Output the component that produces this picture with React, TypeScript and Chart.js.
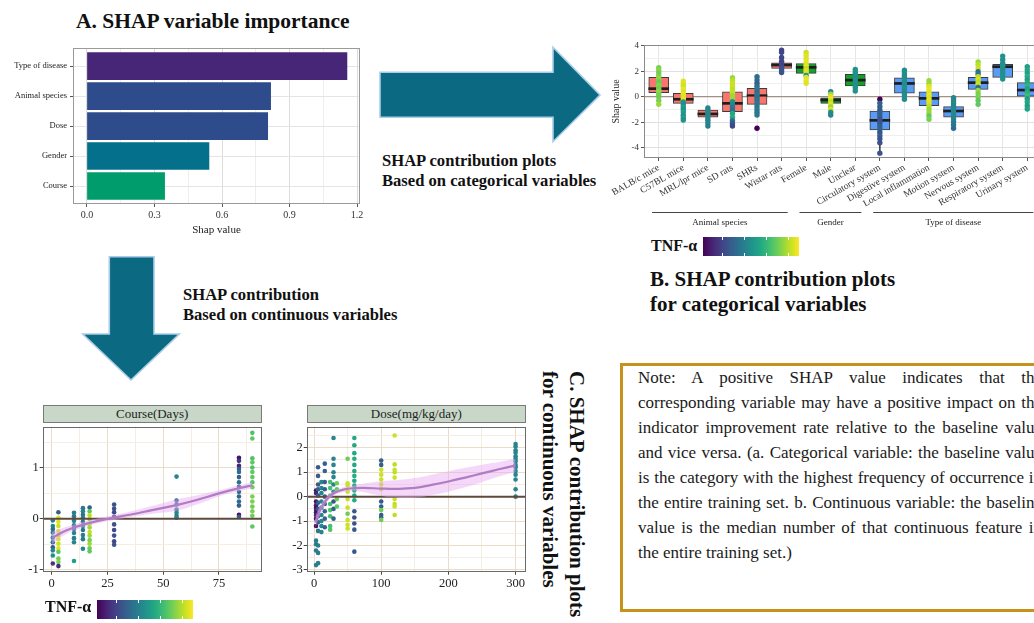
import React, { useEffect, useRef } from 'react';
import { Chart, registerables } from 'chart.js';

Chart.register(...registerables);

const SERIF = '"Liberation Serif", "Times New Roman", Times, serif';

// ---------------- Panel A: variable importance ----------------
const importanceVars = ['Type of disease', 'Animal species', 'Dose', 'Gender', 'Course'];
const importanceValues = [1.155, 0.816, 0.803, 0.542, 0.345];
const importanceColors = ['#482677', '#2e4b8b', '#2e4b8b', '#05708b', '#009c6b'];
const importanceMajor = [0, 0.3, 0.6, 0.9, 1.2];
const importanceMinor = [0.15, 0.45, 0.75, 1.05];

// ---------------- Panel B: categorical SHAP ----------------
const boxCategories = [
  'BALB/c mice', 'C57BL mice', 'MRL/lpr mice', 'SD rats', 'SHRs', 'Wistar rats',
  'Female', 'Male', 'Unclear',
  'Circulatory system', 'Digestive system', 'Local inflammation', 'Motion system',
  'Nervous system', 'Respiratory system', 'Urinary system',
];
const boxGroupNames = ['Animal species', 'Gender', 'Type of disease'];
const boxGroupFirst = [0, 6, 9];
const boxGroupLast = [5, 8, 15];
const boxGroupColors = ['#f8766d', '#13a02b', '#5a9cf5'];
const boxQ1 = [0.31, -0.52, -1.61, -1.17, -0.6, 2.22, 1.83, -0.52, 0.84, -2.6, 0.27, -0.7, -1.61, 0.58, 1.52, 0.0];
const boxMedian = [0.63, -0.2, -1.35, -0.52, 0.08, 2.48, 2.3, -0.26, 1.3, -1.85, 1.04, -0.13, -1.12, 1.1, 2.35, 0.52];
const boxQ3 = [1.52, 0.27, -1.04, 0.39, 0.66, 2.66, 2.6, -0.08, 1.75, -1.12, 1.48, 0.39, -0.78, 1.52, 2.53, 1.1];
const boxWhiskerLow = [-0.6, -1.82, -2.29, -2.29, -1.43, 1.9, 1.05, -1.43, 0.45, -4.42, -0.2, -1.77, -2.47, -0.6, 1.38, -0.96];
const boxWhiskerHigh = [2.27, 1.22, -0.88, 1.48, 1.56, 3.65, 3.47, 0.39, 2.14, -0.2, 2.08, 1.25, -0.08, 2.73, 3.18, 2.35];
const boxYMajor = [-4, -2, 0, 2, 4];
const boxYMinor = [-3, -1, 1, 3];

// points: [shap value, TNF-α level 0..1]
const ptsBALBc = [[2.27, 0.8], [2.05, 0.82], [1.85, 0.78], [1.62, 0.8], [1.42, 0.85], [1.25, 0.8], [1.1, 0.75], [0.95, 0.8], [0.8, 0.82], [0.65, 0.78], [0.5, 0.8], [0.35, 0.85], [0.2, 0.8], [0.0, 0.78], [-0.3, 0.8], [-0.6, 0.85]];
const ptsC57BL = [[1.22, 0.95], [1.02, 0.95], [0.82, 0.92], [0.6, 0.97], [0.42, 0.95], [0.22, 0.97], [0.05, 0.95], [-0.1, 0.95], [-0.25, 0.97], [-0.42, 0.5], [-0.62, 0.48], [-0.82, 0.55], [-1.0, 0.5], [-1.2, 0.55], [-1.45, 0.5], [-1.65, 0.55], [-1.82, 0.5]];
const ptsMRL = [[-0.88, 0.45], [-1.04, 0.45], [-1.2, 0.47], [-1.35, 0.45], [-1.5, 0.45], [-1.66, 0.47], [-1.85, 0.45], [-2.05, 0.45], [-2.29, 0.42]];
const ptsSD = [[1.48, 0.85], [1.25, 0.9], [1.02, 0.92], [0.8, 0.92], [0.56, 0.9], [0.32, 0.92], [0.1, 0.85], [-0.15, 0.85], [-0.4, 0.5], [-0.62, 0.45], [-0.85, 0.4], [-1.08, 0.35], [-1.32, 0.6], [-1.6, 0.62], [-1.88, 0.35], [-2.1, 0.28], [-2.29, 0.22]];
const ptsSHRs = [[1.56, 0.35], [1.3, 0.35], [1.05, 0.3], [0.82, 0.35], [0.58, 0.4], [0.35, 0.35], [0.12, 0.4], [-0.1, 0.35], [-0.3, 0.4], [-0.52, 0.4], [-0.76, 0.4], [-1.0, 0.42], [-1.22, 0.4], [-1.43, 0.4], [-2.47, 0.0]];
const ptsWistar = [[3.65, 0.2], [3.48, 0.2], [3.08, 0.22], [2.78, 0.2], [2.58, 0.22], [2.42, 0.2], [2.22, 0.25], [2.06, 0.25], [1.9, 0.25]];
const ptsFemale = [[3.47, 0.92], [3.22, 0.95], [2.98, 0.95], [2.72, 0.97], [2.52, 0.95], [2.36, 0.97], [2.2, 0.9], [2.05, 0.95], [1.9, 0.95], [1.66, 0.5], [1.5, 0.95], [1.27, 0.97], [1.05, 0.95]];
const ptsMale = [[0.39, 0.45], [0.2, 0.85], [0.02, 0.95], [-0.18, 0.97], [-0.38, 0.9], [-0.58, 0.95], [-0.8, 0.85], [-1.0, 0.95], [-1.22, 0.5], [-1.43, 0.45]];
const ptsUnclear = [[2.14, 0.5], [1.92, 0.5], [1.72, 0.5], [1.52, 0.48], [1.32, 0.5], [1.12, 0.5], [0.92, 0.48], [0.7, 0.5], [0.45, 0.5]];
const ptsCirculatory = [[-0.2, 0.0], [-0.5, 0.3], [-0.78, 0.3], [-1.05, 0.28], [-1.3, 0.3], [-1.55, 0.3], [-1.8, 0.25], [-2.05, 0.25], [-2.3, 0.3], [-2.55, 0.3], [-2.8, 0.25], [-3.05, 0.3], [-3.3, 0.25], [-3.6, 0.25], [-4.42, 0.25]];
const ptsDigestive = [[2.08, 0.48], [1.86, 0.5], [1.66, 0.48], [1.46, 0.48], [1.26, 0.5], [1.06, 0.48], [0.86, 0.48], [0.66, 0.5], [0.46, 0.48], [0.26, 0.46], [0.05, 0.48], [-0.2, 0.48]];
const ptsLocal = [[1.25, 0.85], [1.02, 0.85], [0.8, 0.95], [0.56, 0.97], [0.32, 0.95], [0.1, 0.97], [-0.1, 0.95], [-0.3, 0.97], [-0.5, 0.95], [-0.75, 0.9], [-1.0, 0.85], [-1.25, 0.85], [-1.5, 0.75], [-1.77, 0.8]];
const ptsMotion = [[-0.08, 0.45], [-0.3, 0.45], [-0.5, 0.47], [-0.7, 0.45], [-0.9, 0.45], [-1.1, 0.45], [-1.3, 0.47], [-1.5, 0.45], [-1.72, 0.45], [-1.95, 0.42], [-2.2, 0.4], [-2.47, 0.35]];
const ptsNervous = [[2.73, 0.85], [2.5, 0.9], [2.22, 0.92], [1.96, 0.35], [1.76, 0.4], [1.56, 0.9], [1.36, 0.95], [1.16, 0.9], [0.96, 0.92], [0.72, 0.35], [0.5, 0.85], [0.25, 0.8], [0.0, 0.8], [-0.3, 0.75], [-0.6, 0.75]];
const ptsRespiratory = [[3.18, 0.5], [2.9, 0.5], [2.62, 0.48], [2.46, 0.5], [2.3, 0.5], [2.1, 0.48], [1.86, 0.5], [1.62, 0.5], [1.38, 0.5]];
const ptsUrinary = [[2.35, 0.55], [2.1, 0.6], [1.85, 0.55], [1.6, 0.62], [1.35, 0.55], [1.1, 0.6], [0.85, 0.65], [0.6, 0.55], [0.35, 0.62], [0.1, 0.68], [-0.15, 0.55], [-0.42, 0.6], [-0.7, 0.55], [-0.96, 0.58]];
const boxPoints = [ptsBALBc, ptsC57BL, ptsMRL, ptsSD, ptsSHRs, ptsWistar, ptsFemale, ptsMale, ptsUnclear,
  ptsCirculatory, ptsDigestive, ptsLocal, ptsMotion, ptsNervous, ptsRespiratory, ptsUrinary];

// ---------------- Panel C: Course(Days) ----------------
const courseDays = [0.5, 3, 10, 14, 17, 28, 56, 84, 90];
const courseD0 = [[-0.03, 0.42], [-0.14, 0.45], [-0.2, 0.35], [-0.27, 0.42], [-0.37, 0.45], [-0.46, 0.35], [-0.56, 0.3], [-0.62, 0.45], [-0.72, 0.5], [-0.88, 0.15]];
const courseD3 = [[0.13, 0.3], [0.02, 0.95], [-0.06, 0.95], [-0.14, 0.92], [-0.24, 0.95], [-0.32, 0.9], [-0.4, 0.95], [-0.49, 0.92], [-0.58, 0.95], [-0.65, 0.75], [-0.78, 0.78], [-0.85, 0.8], [-0.93, 0.12]];
const courseD10 = [[0.12, 0.42], [0.05, 0.4], [-0.04, 0.45], [-0.13, 0.42], [-0.2, 0.4], [-0.28, 0.45], [-0.38, 0.42], [-0.46, 0.45], [-0.83, 0.55]];
const courseD14 = [[0.21, 0.4], [0.15, 0.42], [0.08, 0.38], [0.02, 0.42], [-0.06, 0.4], [-0.14, 0.42], [-0.22, 0.38], [-0.32, 0.42], [-0.4, 0.4], [-0.59, 0.45]];
const courseD17 = [[0.22, 0.3], [0.15, 0.75], [0.07, 0.9], [-0.01, 0.85], [-0.1, 0.9], [-0.17, 0.85], [-0.26, 0.9], [-0.33, 0.85], [-0.42, 0.8], [-0.49, 0.85], [-0.58, 0.78], [-0.64, 0.75]];
const courseD28 = [[0.28, 0.25], [0.2, 0.25], [0.13, 0.22], [0.04, 0.25], [-0.11, 0.25], [-0.22, 0.22], [-0.33, 0.25], [-0.44, 0.22], [-0.51, 0.25]];
const courseD56 = [[0.83, 0.45], [0.36, 0.35], [0.28, 0.35], [0.18, 0.4], [0.12, 0.45], [0.06, 0.42], [0.02, 0.45]];
const courseD84 = [[1.2, 0.05], [1.14, 0.15], [1.04, 0.1], [0.98, 0.3], [0.92, 0.35], [0.82, 0.3], [0.72, 0.35], [0.63, 0.3], [0.53, 0.35], [0.44, 0.32], [0.34, 0.35], [0.26, 0.3], [0.08, 0.05], [0.04, 0.3]];
const courseD90 = [[1.69, 0.72], [1.58, 0.75], [1.19, 0.72], [1.11, 0.75], [1.01, 0.72], [0.92, 0.75], [0.82, 0.75], [0.72, 0.72], [0.62, 0.78], [0.44, 0.8], [0.34, 0.8], [0.24, 0.78], [0.15, 0.8], [0.06, 0.78], [-0.15, 0.75]];
const coursePoints = [courseD0, courseD3, courseD10, courseD14, courseD17, courseD28, courseD56, courseD84, courseD90];
const courseSmoothX = [0, 5, 10, 17, 25, 35, 45, 56, 65, 75, 84, 90];
const courseSmoothY = [-0.38, -0.26, -0.17, -0.08, 0.0, 0.08, 0.17, 0.27, 0.37, 0.5, 0.6, 0.66];
const courseUpper = [-0.26, -0.18, -0.11, -0.03, 0.05, 0.14, 0.25, 0.38, 0.46, 0.56, 0.66, 0.72];
const courseLower = [-0.5, -0.34, -0.23, -0.13, -0.05, 0.03, 0.1, 0.16, 0.28, 0.44, 0.54, 0.6];
const courseXMajor = [0, 25, 50, 75];
const courseXMinor = [12.5, 37.5, 62.5, 87.5];
const courseYMajor = [-1, 0, 1];
const courseYMinor = [-0.5, 0.5, 1.5];

// ---------------- Panel C: Dose(mg/kg/day) ----------------
const doseLevels = [3, 6, 11, 16, 24, 29, 34, 50, 60, 100, 120, 300];
const doseD3 = [[0.25, 0.05], [0.15, 0.1], [-0.2, 0.05], [-0.35, 0.1], [-0.45, 0.05], [-0.55, 0.1], [-0.65, 0.05], [-0.75, 0.1], [-0.9, 0.05], [-1.2, 0.02], [-1.8, 0.42], [-1.95, 0.42], [-2.2, 0.42], [-2.8, 0.42]];
const doseD6 = [[1.2, 0.28], [0.85, 0.3], [0.5, 0.28], [0.3, 0.3], [0.05, 0.3], [-0.25, 0.3], [-0.5, 0.28], [-0.8, 0.3], [-1.05, 0.28], [-1.4, 0.4], [-2.0, 0.42], [-2.3, 0.42], [-2.72, 0.42]];
const doseD11 = [[0.6, 0.45], [0.35, 0.45], [0.15, 0.45], [-0.2, 0.45], [-0.45, 0.45], [-0.75, 0.45], [-1.0, 0.45], [-1.2, 0.45], [-1.45, 0.45]];
const doseD16 = [[1.35, 0.3], [1.05, 0.3], [0.6, 0.3], [0.3, 0.3], [0.0, 0.3], [-0.3, 0.3], [-0.6, 0.3], [-0.9, 0.3], [-1.25, 0.3]];
const doseD24 = [[0.6, 0.7], [0.35, 0.7], [0.05, 0.72], [-0.3, 0.7], [-0.55, 0.72], [-0.8, 0.7], [-1.2, 0.7], [-1.35, 0.72]];
const doseD29 = [[2.4, 0.45], [1.55, 0.45], [1.3, 0.45], [1.0, 0.45], [0.8, 0.45], [0.5, 0.42], [0.2, 0.45], [-0.2, 0.25], [-0.5, 0.3], [-0.9, 0.3]];
const doseD34 = [[0.55, 0.78], [0.3, 0.75], [-0.1, 0.78], [-0.4, 0.75]];
const doseD50 = [[1.55, 0.78], [0.55, 0.92], [0.45, 0.92], [0.2, 0.92], [-0.1, 0.92], [-0.45, 0.92], [-0.7, 0.78], [-0.95, 0.92], [-1.15, 0.92], [-1.3, 0.92]];
const doseD60 = [[2.4, 0.6], [2.1, 0.6], [1.78, 0.6], [1.55, 0.62], [1.3, 0.6], [1.05, 0.6], [0.85, 0.62], [0.65, 0.6], [0.45, 0.6], [0.25, 0.62], [0.05, 0.6], [-0.15, 0.62], [-0.6, 0.28], [-0.85, 0.25], [-1.1, 0.25], [-1.35, 0.28], [-2.25, 0.28]];
const doseD100 = [[1.48, 0.3], [1.3, 0.3], [1.1, 0.92], [0.9, 0.92], [0.7, 0.92], [0.5, 0.92], [0.3, 0.92], [-0.2, 0.28], [-0.4, 0.3], [-0.55, 0.78], [-0.75, 0.28], [-0.85, 0.3], [-0.95, 0.78]];
const doseD120 = [[2.5, 0.92], [1.32, 0.9], [1.1, 0.92], [1.0, 0.9], [0.78, 0.92], [-0.1, 0.92], [-0.3, 0.9], [-0.4, 0.92], [-0.75, 0.9]];
const doseD300 = [[2.15, 0.45], [2.05, 0.45], [1.9, 0.45], [1.8, 0.45], [1.65, 0.45], [1.55, 0.45], [1.45, 0.45], [1.3, 0.45], [1.2, 0.45], [1.05, 0.45], [0.9, 0.45], [0.7, 0.45], [0.3, 0.45], [0.0, 0.45]];
const dosePoints = [doseD3, doseD6, doseD11, doseD16, doseD24, doseD29, doseD34, doseD50, doseD60, doseD100, doseD120, doseD300];
const doseSmoothX = [2, 8, 14, 20, 30, 45, 60, 75, 100, 125, 150, 175, 200, 225, 250, 275, 300];
const doseSmoothY = [-1.05, -0.62, -0.3, -0.08, 0.15, 0.3, 0.35, 0.36, 0.33, 0.32, 0.36, 0.48, 0.62, 0.78, 0.95, 1.12, 1.28];
const doseUpper = [-0.8, -0.42, -0.15, 0.04, 0.25, 0.4, 0.47, 0.54, 0.63, 0.68, 0.76, 0.9, 1.04, 1.18, 1.31, 1.42, 1.55];
const doseLower = [-1.3, -0.82, -0.45, -0.2, 0.05, 0.2, 0.23, 0.18, 0.03, -0.04, -0.04, 0.06, 0.2, 0.38, 0.59, 0.82, 1.01];
const doseXMajor = [0, 100, 200, 300];
const doseXMinor = [50, 150, 250];
const doseYMajor = [-3, -2, -1, 0, 1, 2];
const doseYMinor = [-2.5, -1.5, -0.5, 0.5, 1.5, 2.5];

const noteLines = [
  'Note: A positive SHAP value indicates that the',
  'corresponding variable may have a positive impact on the',
  'indicator improvement rate relative to the baseline value',
  'and vice versa. (a. Categorical variable: the baseline value',
  'is the category with the highest frequency of occurrence in',
  'the entire training set. b. Continuous variable: the baseline',
  'value is the median number of that continuous feature in',
  'the entire training set.)',
];

// ---------------- helpers ----------------
const VIRIDIS = ['#440154', '#482475', '#414487', '#355f8d', '#2a788e', '#21918c', '#22a884', '#44bf70', '#7ad151', '#bddf26', '#fde725'];
function hexRgb(h: string) {
  return [parseInt(h.slice(1, 3), 16), parseInt(h.slice(3, 5), 16), parseInt(h.slice(5, 7), 16)];
}
function viridis(t: number) {
  const s = Math.max(0, Math.min(1, t)) * (VIRIDIS.length - 1);
  const i = Math.min(Math.floor(s), VIRIDIS.length - 2);
  const f = s - i;
  const a = hexRgb(VIRIDIS[i]);
  const b = hexRgb(VIRIDIS[i + 1]);
  return `rgb(${Math.round(a[0] + (b[0] - a[0]) * f)},${Math.round(a[1] + (b[1] - a[1]) * f)},${Math.round(a[2] + (b[2] - a[2]) * f)})`;
}
const VIRIDIS_GRADIENT = `linear-gradient(to right, ${VIRIDIS.join(', ')})`;

const near = (v: any, list: number[]) => typeof v === 'number' && list.some((x) => Math.abs(x - v) < 1e-6);
function gridTicks(major: number[], minor: number[]) {
  return (s: any) => {
    s.ticks = [...major, ...minor].sort((a, b) => a - b).map((v) => ({ value: v }));
  };
}
function frame(color: string, lw = 1) {
  return {
    id: 'frame',
    afterDraw(chart: any) {
      const { ctx, chartArea: a } = chart;
      ctx.save();
      ctx.strokeStyle = color;
      ctx.lineWidth = lw;
      ctx.strokeRect(Math.round(a.left) + 0.5, Math.round(a.top) + 0.5, Math.round(a.right - a.left) - 1, Math.round(a.bottom - a.top) - 1);
      ctx.restore();
    },
  };
}
const font = (size: number, weight: any = 'normal') => ({ family: SERIF, size, weight });

// ---------------- chart configs ----------------
function configImportance() {
  return {
    type: 'bar',
    data: {
      datasets: [{
        data: importanceValues.map((v, i) => ({ x: v, y: i })),
        backgroundColor: importanceColors,
        borderWidth: 0,
        barThickness: 27,
      }],
    },
    options: {
      indexAxis: 'y',
      responsive: false,
      animation: false,
      events: [],
      layout: { padding: { top: 7, right: 12, left: 0, bottom: 0 } },
      plugins: { legend: { display: false }, tooltip: { enabled: false } },
      scales: {
        x: {
          type: 'linear', min: -0.062, max: 1.213, offset: false,
          afterBuildTicks: gridTicks(importanceMajor, importanceMinor),
          afterFit: (s: any) => { s.height = 36; },
          ticks: {
            autoSkip: false, maxRotation: 0, padding: 2, color: '#333', font: font(10),
            callback: (v: any) => (near(v, importanceMajor) ? Number(v).toFixed(1) : ''),
          },
          grid: {
            offset: false, tickLength: 3,
            color: (c: any) => (near(c.tick && c.tick.value, importanceMajor) ? '#dcdcdc' : '#eeeeee'),
            tickColor: (c: any) => (near(c.tick && c.tick.value, importanceMajor) ? '#555' : 'rgba(0,0,0,0)'),
          },
          border: { display: false },
          title: { display: true, text: 'Shap value', color: '#222', font: font(11), padding: { top: 0, bottom: 3 } },
        },
        y: {
          type: 'linear', reverse: true, min: -0.6, max: 4.6, offset: false,
          afterBuildTicks: (s: any) => { s.ticks = importanceVars.map((_, i) => ({ value: i })); },
          afterFit: (s: any) => { s.width = 73; },
          ticks: { autoSkip: false, padding: 3, color: '#222', font: font(8.5), callback: (v: any) => importanceVars[v] ?? '' },
          grid: { offset: false, color: '#e4e4e4', tickColor: '#555', tickLength: 3 },
          border: { display: false },
        },
      },
    },
    plugins: [frame('#9a9a9a')],
  };
}

const groupsPlugin = {
  id: 'groups',
  afterDraw(chart: any) {
    const { ctx, chartArea: a, scales } = chart;
    const x = scales.x;
    ctx.save();
    ctx.strokeStyle = '#444';
    ctx.lineWidth = 1;
    ctx.fillStyle = '#222';
    ctx.font = `9px ${SERIF}`;
    ctx.textAlign = 'center';
    ctx.textBaseline = 'middle';
    boxGroupNames.forEach((name, g) => {
      const x0 = x.getPixelForValue(boxGroupFirst[g] - 0.27);
      const x1 = x.getPixelForValue(boxGroupLast[g] + 0.25);
      const y = Math.round(a.bottom + 53.5) + 0.5;
      ctx.beginPath();
      ctx.moveTo(x0, y);
      ctx.lineTo(x1, y);
      ctx.stroke();
      ctx.fillText(name, (x0 + x1) / 2, y + 10.5);
    });
    ctx.restore();
  },
};

function groupOf(i: number) {
  let g = 0;
  boxGroupFirst.forEach((f, gi) => { if (i >= f) g = gi; });
  return g;
}

function configBoxes() {
  const pts: any[] = [];
  const ptColors: string[] = [];
  boxPoints.forEach((list, i) => list.forEach(([y, t]) => { pts.push({ x: i, y }); ptColors.push(viridis(t)); }));
  return {
    type: 'bar',
    data: {
      datasets: [
        {
          type: 'scatter', data: pts, pointRadius: 2.7, pointBackgroundColor: ptColors,
          pointBorderWidth: 0, order: 0,
        },
        {
          type: 'bar', data: boxMedian.map((m, i) => ({ x: i, y: [m - 0.08, m + 0.08] })),
          backgroundColor: '#1e1e1e', borderWidth: 0, barThickness: 20, grouped: false, order: 1,
        },
        {
          type: 'bar', data: boxQ1.map((q, i) => ({ x: i, y: [q, boxQ3[i]] })),
          backgroundColor: boxCategories.map((_, i) => boxGroupColors[groupOf(i)]),
          borderColor: '#3c3c3c', borderWidth: 1, borderSkipped: false, barThickness: 20, grouped: false, order: 2,
        },
        {
          type: 'bar', data: boxWhiskerLow.map((lo, i) => ({ x: i, y: [lo, boxWhiskerHigh[i]] })),
          backgroundColor: '#444', borderWidth: 0, barThickness: 1, grouped: false, order: 3,
        },
        {
          type: 'line', data: [{ x: -0.6, y: 0 }, { x: 15.6, y: 0 }], borderColor: '#a09086',
          borderWidth: 1.2, pointRadius: 0, fill: false, order: 4,
        },
      ],
    },
    options: {
      responsive: false,
      animation: false,
      events: [],
      layout: { padding: { top: 10, right: 5, left: 0, bottom: 0 } },
      plugins: { legend: { display: false }, tooltip: { enabled: false } },
      scales: {
        x: {
          type: 'linear', min: -0.6, max: 15.6, offset: false,
          afterBuildTicks: (s: any) => { s.ticks = boxCategories.map((_, i) => ({ value: i })); },
          afterFit: (s: any) => { s.height = 77; },
          ticks: {
            autoSkip: false, minRotation: 30, maxRotation: 30, padding: 1, color: '#333', font: font(9.5),
            callback: (v: any) => boxCategories[v] ?? '',
          },
          grid: { offset: false, color: '#e6e6e6', tickColor: '#555', tickLength: 3 },
          border: { display: false },
        },
        y: {
          type: 'linear', min: -4.8, max: 4.05,
          afterBuildTicks: gridTicks(boxYMajor, boxYMinor),
          afterFit: (s: any) => { s.width = 34; },
          ticks: {
            autoSkip: false, padding: 2, color: '#333', font: font(9),
            callback: (v: any) => (near(v, boxYMajor) ? String(v) : ''),
          },
          grid: {
            tickLength: 3,
            color: (c: any) => (near(c.tick && c.tick.value, boxYMajor) ? '#e0e0e0' : '#efefef'),
            tickColor: (c: any) => (near(c.tick && c.tick.value, boxYMajor) ? '#555' : 'rgba(0,0,0,0)'),
          },
          border: { display: false },
          title: { display: true, text: 'Shap value', color: '#222', font: font(10), padding: { top: 0, bottom: 0 } },
        },
      },
    },
    plugins: [frame('#8a8a8a'), groupsPlugin],
  };
}

function configContinuous(p: any) {
  const pts: any[] = [];
  const cols: string[] = [];
  p.xs.forEach((x: number, ci: number) => p.points[ci].forEach(([y, t]: number[]) => { pts.push({ x, y }); cols.push(viridis(t)); }));
  return {
    type: 'scatter',
    data: {
      datasets: [
        {
          type: 'line', data: p.smoothX.map((x: number, i: number) => ({ x, y: p.upper[i] })),
          borderWidth: 0, pointRadius: 0, fill: '+1', backgroundColor: 'rgba(232,168,242,0.45)', tension: 0.4, order: 2,
        },
        {
          type: 'line', data: p.smoothX.map((x: number, i: number) => ({ x, y: p.lower[i] })),
          borderWidth: 0, pointRadius: 0, fill: false, tension: 0.4, order: 2,
        },
        {
          type: 'line', data: p.smoothX.map((x: number, i: number) => ({ x, y: p.smoothY[i] })),
          borderColor: '#b07cc4', borderWidth: 2.2, pointRadius: 0, fill: false, tension: 0.4, order: 1,
        },
        {
          type: 'line', data: [{ x: p.xMin, y: 0 }, { x: p.xMax, y: 0 }],
          borderColor: '#5e4a3c', borderWidth: 2, pointRadius: 0, fill: false, order: 3,
        },
        {
          type: 'scatter', data: pts, pointRadius: 2.3, pointBackgroundColor: cols, pointBorderWidth: 0, order: 4,
        },
      ],
    },
    options: {
      responsive: false,
      animation: false,
      events: [],
      layout: { padding: { top: p.padTop, right: p.padRight, left: 0, bottom: 0 } },
      plugins: { legend: { display: false }, tooltip: { enabled: false } },
      scales: {
        x: {
          type: 'linear', min: p.xMin, max: p.xMax,
          afterBuildTicks: gridTicks(p.xMajor, p.xMinor),
          afterFit: (s: any) => { s.height = p.xHeight; },
          ticks: {
            autoSkip: false, maxRotation: 0, padding: 2, color: '#222', font: font(12.5),
            callback: (v: any) => (near(v, p.xMajor) ? String(v) : ''),
          },
          grid: {
            tickLength: 3,
            color: (c: any) => (near(c.tick && c.tick.value, p.xMajor) ? '#eadcc8' : '#f5ede2'),
            tickColor: (c: any) => (near(c.tick && c.tick.value, p.xMajor) ? '#444' : 'rgba(0,0,0,0)'),
          },
          border: { display: false },
        },
        y: {
          type: 'linear', min: p.yMin, max: p.yMax,
          afterBuildTicks: gridTicks(p.yMajor, p.yMinor),
          afterFit: (s: any) => { s.width = p.yWidth; },
          ticks: {
            autoSkip: false, padding: 1, color: '#222', font: font(12.5),
            callback: (v: any) => (near(v, p.yMajor) ? String(v) : ''),
          },
          grid: {
            tickLength: 3,
            color: (c: any) => (near(c.tick && c.tick.value, p.yMajor) ? '#eadcc8' : '#f5ede2'),
            tickColor: (c: any) => (near(c.tick && c.tick.value, p.yMajor) ? '#444' : 'rgba(0,0,0,0)'),
          },
          border: { display: false },
        },
      },
    },
    plugins: [frame('#6a6a6a')],
  };
}

// ---------------- components ----------------
function ChartCanvas({ left, top, width, height, make }: any) {
  const ref = useRef<HTMLCanvasElement | null>(null);
  useEffect(() => {
    const chart = new Chart(ref.current as any, make());
    return () => chart.destroy();
  }, []);
  return (
    <div style={{ position: 'absolute', left, top, width, height }}>
      <canvas ref={ref} width={width} height={height} style={{ width, height, display: 'block' }} />
    </div>
  );
}

function ColorBar({ left, top }: any) {
  return (
    <div style={{ position: 'absolute', left, top, width: 96, height: 19, background: VIRIDIS_GRADIENT }}>
      {[0.2, 0.43, 0.66, 0.89].map((f) => (
        <React.Fragment key={f}>
          <div style={{ position: 'absolute', left: 96 * f, top: 0, width: 1, height: 3, background: '#fff' }} />
          <div style={{ position: 'absolute', left: 96 * f, bottom: 0, width: 1, height: 3, background: '#fff' }} />
        </React.Fragment>
      ))}
    </div>
  );
}

function Strip({ left, top, width, text }: any) {
  return (
    <div style={{
      position: 'absolute', left, top, width, height: 18, boxSizing: 'border-box',
      background: '#c9d7c9', border: '1px solid #7a7a7a', fontSize: 13, lineHeight: '16px',
      textAlign: 'center', color: '#222',
    }}>{text}</div>
  );
}

const courseParams = {
  xs: courseDays, points: coursePoints, smoothX: courseSmoothX, smoothY: courseSmoothY,
  upper: courseUpper, lower: courseLower, xMin: -4.04, xMax: 94.2, yMin: -1.04, yMax: 1.815,
  xMajor: courseXMajor, xMinor: courseXMinor, yMajor: courseYMajor, yMinor: courseYMinor,
  padTop: 5.3, padRight: 5.3, xHeight: 26.3, yWidth: 37.7,
};
const doseParams = {
  xs: doseLevels, points: dosePoints, smoothX: doseSmoothX, smoothY: doseSmoothY,
  upper: doseUpper, lower: doseLower, xMin: -10.9, xMax: 315.5, yMin: -3.07, yMax: 2.87,
  xMajor: doseXMajor, xMinor: doseXMinor, yMajor: doseYMajor, yMinor: doseYMinor,
  padTop: 5.3, padRight: 6, xHeight: 26.3, yWidth: 36.7,
};

export default function App() {
  useEffect(() => { document.body.style.margin = '0'; }, []);
  const bold = { fontWeight: 'bold' as const, whiteSpace: 'nowrap' as const, position: 'absolute' as const, color: '#111' };
  return (
    <div style={{ position: 'absolute', left: 0, top: 0, width: 1034, height: 623, overflow: 'hidden', background: '#fff', fontFamily: SERIF, color: '#111' }}>
      {/* arrows */}
      <svg width={1034} height={623} style={{ position: 'absolute', left: 0, top: 0 }}>
        <polygon points="380,72.3 553,72.3 553,47.3 600,95 553,141.7 553,117.3 380,117.3" fill="#0b6982" stroke="#a9cde9" strokeWidth={1.6} />
        <polygon points="109.3,256.7 154,256.7 154,334 179.3,334 131,380 82.7,334 109.3,334" fill="#0b6982" stroke="#a9cde9" strokeWidth={1.6} />
      </svg>

      {/* Panel A */}
      <div style={{ ...bold, left: 76, top: 7, fontSize: 21.5, lineHeight: '28px' }}>A. SHAP variable importance</div>
      <ChartCanvas left={0} top={40} width={372} height={200} make={configImportance} />

      <div style={{ ...bold, left: 382, top: 151, fontSize: 16.6, lineHeight: '20px' }}>
        SHAP contribution plots<br />Based on categorical variables
      </div>
      <div style={{ ...bold, left: 183, top: 285, fontSize: 16.6, lineHeight: '20px' }}>
        SHAP contribution<br />Based on continuous variables
      </div>

      {/* Panel B */}
      <ChartCanvas left={610} top={35} width={437} height={200} make={configBoxes} />
      <div style={{ ...bold, left: 651, top: 236, fontSize: 16, lineHeight: '20px' }}>TNF-α</div>
      <ColorBar left={703} top={237} />
      <div style={{ ...bold, left: 650, top: 267, fontSize: 21, lineHeight: '25px' }}>
        B. SHAP contribution plots<br />for categorical variables
      </div>

      {/* Panel C */}
      <Strip left={42.7} top={405} width={219} text="Course(Days)" />
      <ChartCanvas left={5} top={418} width={262} height={180} make={() => configContinuous(courseParams)} />
      <Strip left={306.7} top={405} width={219.3} text="Dose(mg/kg/day)" />
      <ChartCanvas left={270} top={418} width={262} height={180} make={() => configContinuous(doseParams)} />
      <div style={{ ...bold, left: 45, top: 597, fontSize: 16, lineHeight: '20px' }}>TNF-α</div>
      <ColorBar left={97} top={600} />
      <div style={{ ...bold, left: 536, top: 371, fontSize: 21, lineHeight: '27px', writingMode: 'vertical-rl' as any }}>
        C. SHAP contribution plots<br />for continuous variables
      </div>

      {/* Note */}
      <div style={{ position: 'absolute', left: 620, top: 363, width: 520, height: 249, boxSizing: 'border-box', border: '3px solid #c6921a' }} />
      <div style={{ position: 'absolute', left: 638, top: 365, width: 404, fontSize: 17, lineHeight: '25px', color: '#1a1a1a' }}>
        {noteLines.map((line, i) => (
          <div key={i} style={{ textAlign: i === noteLines.length - 1 ? 'left' : 'justify', textAlignLast: i === noteLines.length - 1 ? 'left' : 'justify' } as any}>{line}</div>
        ))}
      </div>
    </div>
  );
}
